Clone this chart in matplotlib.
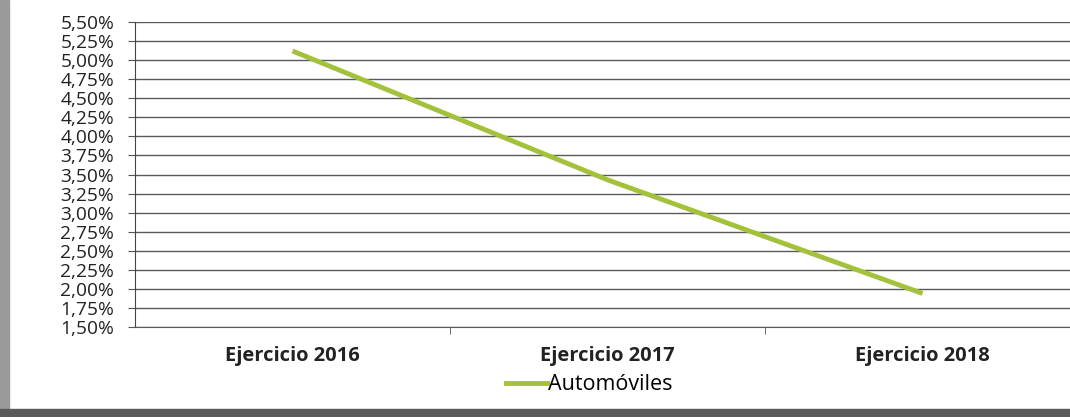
import matplotlib.pyplot as plt
from matplotlib.ticker import FixedLocator, FuncFormatter
from matplotlib.lines import Line2D
from matplotlib.patches import Rectangle

categories = ["Ejercicio 2016", "Ejercicio 2017", "Ejercicio 2018"]
automoviles = [5.12, 3.43, 1.94]
y_ticks = [1.50 + 0.25 * i for i in range(17)]

plt.rcParams["font.family"] = ["Open Sans", "DejaVu Sans"]

fig = plt.figure(figsize=(10.7, 4.17), dpi=100)
fig.patch.set_facecolor("white")

# scan shadow on the left and bottom edges
fig.patches.append(Rectangle((0.0, 0.0), 0.008, 1.0, transform=fig.transFigure,
                             color="#9a9a9a", zorder=0))
fig.patches.append(Rectangle((0.0, 0.0), 1.0, 0.018, transform=fig.transFigure,
                             color="#5a5a5a", zorder=0))

ax = fig.add_axes([135 / 1070, 1 - 327 / 417, 945 / 1070, (327 - 22) / 417])
x = list(range(len(categories)))
ax.plot(x, automoviles, color="#a3c13b", linewidth=3.5, solid_capstyle="butt",
        zorder=3)

ax.set_xlim(-0.5, 2.5)
ax.set_ylim(1.5, 5.5)
ax.yaxis.set_major_locator(FixedLocator(y_ticks))
ax.yaxis.set_major_formatter(FuncFormatter(lambda v, _: f"{v:.2f}%".replace(".", ",")))
ax.grid(axis="y", color="#5a5a5a", linewidth=1.0)
ax.set_axisbelow(True)

ax.set_xticks(x)
ax.set_xticklabels(categories, fontweight="bold", fontsize=14.5, color="#222222")
ax.set_xticks([0.5, 1.5], minor=True)
ax.tick_params(axis="x", which="major", length=0, pad=14)
ax.tick_params(axis="x", which="minor", length=5, color="#555555", direction="out")
ax.tick_params(axis="y", length=5, color="#555555", labelsize=13.8,
               labelcolor="#222222", pad=10)

for side in ["top", "right"]:
    ax.spines[side].set_visible(False)
ax.spines["left"].set_color("#444444")
ax.spines["bottom"].set_color("#5a5a5a")

handle = Line2D([], [], color="#a3c13b", linewidth=3.5)
fig.legend([handle], ["Automóviles"], loc="center", bbox_to_anchor=(0.551, 0.077),
           frameon=False, fontsize=15.5, handlelength=1.9, handletextpad=0.05)

fig.savefig("out.png", dpi=100)
